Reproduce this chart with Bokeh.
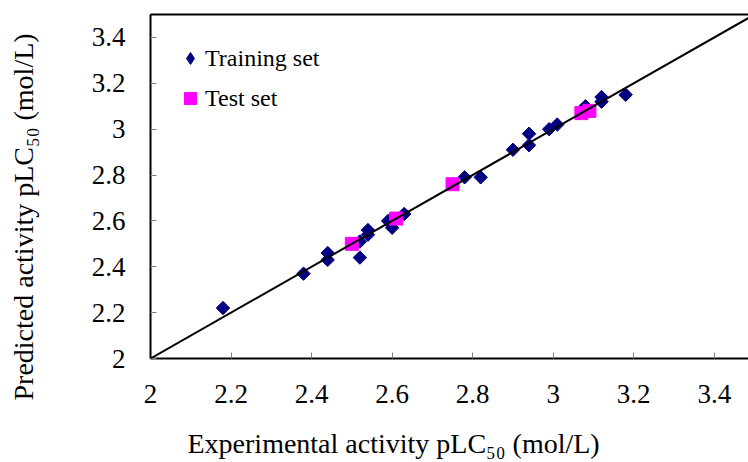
import math
from bokeh.plotting import figure
from bokeh.models import (ColumnDataSource, FixedTicker, NumeralTickFormatter, Slope,
                          Title, LinearAxis, Legend, LegendItem, Range1d)
from bokeh.embed import file_html
from bokeh.resources import INLINE

# ---- data ----
train_exp = [2.18, 2.38, 2.44, 2.44, 2.52, 2.52, 2.54, 2.54, 2.59, 2.60, 2.63,
             2.78, 2.82, 2.90, 2.94, 2.94, 2.99, 3.01, 3.08, 3.12, 3.12, 3.18]
train_pred = [2.22, 2.37, 2.46, 2.43, 2.51, 2.44, 2.56, 2.54, 2.60, 2.57, 2.63,
              2.79, 2.79, 2.91, 2.98, 2.93, 3.00, 3.02, 3.10, 3.14, 3.12, 3.15]
test_exp = [2.50, 2.61, 2.75, 3.07, 3.09]
test_pred = [2.50, 2.61, 2.76, 3.07, 3.08]
tick_values = [2.0, 2.2, 2.4, 2.6, 2.8, 3.0, 3.2, 3.4]

FONT = "Liberation Serif"

p = figure(width=748, height=462, output_backend="svg", toolbar_location=None,
           x_range=Range1d(2.0, 3.485), y_range=Range1d(2.0, 3.5),
           min_border_left=150, min_border_right=0, min_border_top=14,
           min_border_bottom=104, x_axis_location=None, y_axis_location=None)
p.outline_line_color = None
p.grid.visible = False
p.background_fill_color = "white"
p.border_fill_color = "white"

def style_axis(ax):
    ax.ticker = FixedTicker(ticks=tick_values)
    ax.formatter = NumeralTickFormatter(format="0.[0]")
    ax.axis_line_color = "black"
    ax.axis_line_width = 2
    ax.major_tick_in = 6
    ax.major_tick_out = 0
    ax.major_tick_line_color = "#808080"
    ax.major_tick_line_width = 1
    ax.minor_tick_line_color = None
    ax.major_label_text_font = FONT
    ax.major_label_text_font_size = "27px"
    ax.major_label_text_color = "black"
    # blank axis label used only as a spacer before the title
    ax.axis_label = " "
    ax.axis_label_text_font_size = "1px"

xa = LinearAxis()
style_axis(xa)
xa.major_label_standoff = 26
xa.axis_label_standoff = 13
p.add_layout(xa, "below")

ya = LinearAxis()
style_axis(ya)
ya.major_label_standoff = 25
ya.axis_label_standoff = 43
p.add_layout(ya, "left")

# top border line
top = LinearAxis(ticker=FixedTicker(ticks=[]), major_tick_line_color=None,
                 minor_tick_line_color=None, major_label_text_font_size="0px",
                 axis_line_color="black", axis_line_width=2)
p.add_layout(top, "above")

# identity line
p.add_layout(Slope(gradient=1, y_intercept=0, line_color="black", line_width=2))

src_train = ColumnDataSource(dict(x=train_exp, y=train_pred))
src_test = ColumnDataSource(dict(x=test_exp, y=test_pred))
r_train = p.scatter("x", "y", source=src_train, marker="square", size=9.5,
                    angle=math.pi / 4, fill_color="#000080", line_color="#000080")
r_test = p.scatter("x", "y", source=src_test, marker="square", size=13,
                   fill_color="#FF00FF", line_color="#FF00FF")
# legend proxy for the diamond symbol (zero size in the plot itself)
r_train_leg = p.scatter("x", "y", source=src_train, marker="diamond", size=0,
                        fill_color="#000080", line_color="#000080")

legend = Legend(items=[LegendItem(label="Training set", renderers=[r_train_leg]),
                       LegendItem(label="Test set", renderers=[r_test])],
                location=(25, 245), orientation="vertical")
legend.border_line_color = None
legend.background_fill_alpha = 0
legend.padding = 0
legend.margin = 0
legend.spacing = 10
legend.glyph_width = 30
legend.glyph_height = 30
legend.label_height = 30
legend.label_standoff = 0
legend.label_text_font = FONT
legend.label_text_font_size = "24px"
legend.label_text_color = "black"
p.add_layout(legend)

# axis titles
xt = Title(text="Experimental activity pLC\u2085\u2080 (mol/L)", align="left", offset=37,
           text_font=FONT, text_font_size="28px", text_font_style="normal",
           text_color="black", standoff=6)
yt = Title(text="Predicted activity pLC\u2085\u2080 (mol/L)", align="left", offset=-42,
           text_font=FONT, text_font_size="28px", text_font_style="normal",
           text_color="black", standoff=6)
p.add_layout(xt, "below")
p.add_layout(yt, "left")

open("out.html", "w").write(file_html(p, INLINE))
